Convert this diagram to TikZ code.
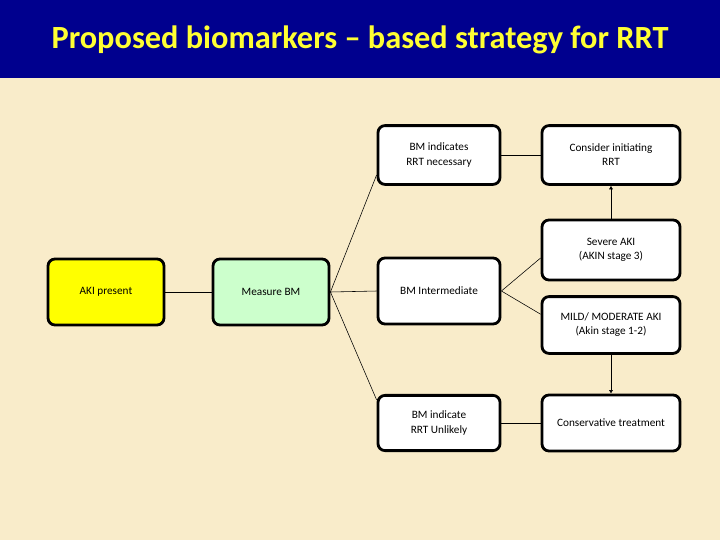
\documentclass[tikz,border=0pt]{standalone}
\usepackage{fontspec}
\setmainfont{Carlito}
\usetikzlibrary{arrows.meta, positioning}
\definecolor{titleblue}{HTML}{00008E}
\definecolor{titleyellow}{HTML}{FFFF33}
\definecolor{parchment}{HTML}{F9ECCA}
\definecolor{akiyellow}{HTML}{FFFF00}
\definecolor{bmgreen}{HTML}{CCFFCC}

\begin{document}
\begin{tikzpicture}[
    x=0.025cm, y=-0.025cm,
    box/.style={rectangle, draw=black, line width=2pt, fill=white, rounded corners=5pt, font=\fontsize{8}{10}\selectfont, align=center, inner sep=2pt},
    midbox/.style={box, minimum width=3.05cm},
    rightbox/.style={box, minimum width=3.45cm},
    link/.style={thin, black},
    arrow/.style={-{Latex[length=2.5pt, width=3pt]}, thin, black},
]
    % background and title band
    \fill[parchment] (0,0) rectangle (720,540);
    \fill[titleblue] (0,0) rectangle (720,78);
    \node[text=titleyellow, font=\fontsize{23}{27}\selectfont\bfseries] (title) at (360,40) {Proposed biomarkers – based strategy for RRT};

    \node[box, fill=akiyellow, minimum width=2.9cm, minimum height=1.65cm] (aki) at (106,292) {AKI present};
    \node[box, fill=bmgreen, minimum width=2.9cm, minimum height=1.65cm] (mbm) at (271,292) {Measure BM};

    \node[midbox, minimum height=1.47cm] (bmnec) at (439,155) {BM indicates\\RRT necessary};
    \node[midbox, minimum height=1.65cm] (bmint) at (439,291) {BM Intermediate};
    \node[midbox, minimum height=1.38cm] (bmunl) at (439,423) {BM indicate\\RRT Unlikely};

    \node[rightbox, minimum height=1.47cm] (rrt) at (611,155) {Consider initiating\\RRT};
    \node[rightbox, minimum height=1.5cm] (severe) at (611,250) {Severe AKI\\(AKIN stage 3)};
    \node[rightbox, minimum height=1.42cm] (mild) at (611,325) {MILD/ MODERATE AKI\\(Akin stage 1-2)};
    \node[rightbox, minimum height=1.4cm] (cons) at (611,423) {Conservative treatment};

    \draw[link] (aki) -- (mbm);
    \draw[link] (mbm.east) -- ([yshift=-0.5cm]bmnec.west);
    \draw[link] (mbm.east) -- (bmint.west);
    \draw[link] (mbm.east) -- ([yshift=0.58cm]bmunl.west);

    \draw[link] (bmnec) -- (rrt);
    \draw[link] (bmint.east) -- ([yshift=-0.2cm]severe.west);
    \draw[link] (bmint.east) -- ([yshift=0.27cm]mild.west);
    \draw[link] (bmunl) -- (cons);

    \draw[arrow] (severe) -- (rrt);
    \draw[arrow] (mild) -- (cons);
\end{tikzpicture}
\end{document}
